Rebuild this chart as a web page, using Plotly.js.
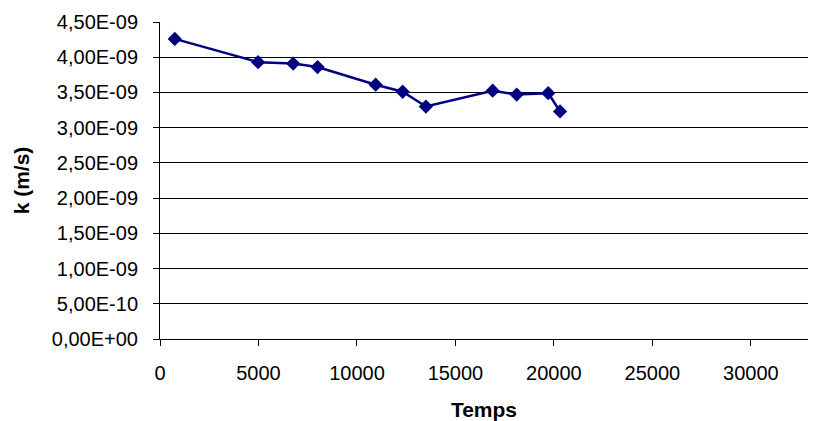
<!DOCTYPE html>
<html>
<head>
<meta charset="utf-8">
<script src="https://cdn.plot.ly/plotly-3.0.1.min.js"></script>
<style>
  html, body { margin: 0; padding: 0; background: #fff; }
  #chart { width: 816px; height: 421px; }
</style>
</head>
<body>
<div id="chart"></div>
<script>
// Data
const temps = [750, 4980, 6760, 8000, 10950, 12320, 13500, 16890, 18110, 19710, 20310];
const kValues = [4.26e-9, 3.93e-9, 3.91e-9, 3.86e-9, 3.61e-9, 3.51e-9, 3.30e-9, 3.525e-9, 3.47e-9, 3.49e-9, 3.23e-9];
const yTickVals = [0, 0.5e-9, 1.0e-9, 1.5e-9, 2.0e-9, 2.5e-9, 3.0e-9, 3.5e-9, 4.0e-9, 4.5e-9];
const yTickText = ["0,00E+00", "5,00E-10", "1,00E-09", "1,50E-09", "2,00E-09", "2,50E-09", "3,00E-09", "3,50E-09", "4,00E-09", "4,50E-09"];
const xTickVals = [0, 5000, 10000, 15000, 20000, 25000, 30000];
const xTickText = ["0", "5000", "10000", "15000", "20000", "25000", "30000"];
const xTitle = "Temps";
const yTitle = "k (m/s)";

const font = "Liberation Sans, Arial, sans-serif";

const trace = {
  x: temps,
  y: kValues,
  type: "scatter",
  mode: "lines+markers",
  line: { color: "#000080", width: 2.5 },
  marker: { symbol: "diamond", size: 11, color: "#000080" },
  hoverinfo: "x+y"
};

const layout = {
  width: 816,
  height: 421,
  margin: { l: 160, r: 8, t: 22, b: 82, pad: 0 },
  paper_bgcolor: "#ffffff",
  plot_bgcolor: "#ffffff",
  showlegend: false,
  font: { family: font, size: 20, color: "#000000" },
  xaxis: {
    range: [0, 32900],
    tickmode: "array",
    tickvals: xTickVals,
    ticktext: xTickText,
    ticks: "outside",
    ticklen: 6,
    tickcolor: "#000",
    tickwidth: 1,
    ticklabelstandoff: 10,
    showgrid: false,
    zeroline: false,
    showline: true,
    linecolor: "#000",
    linewidth: 1,
    tickfont: { family: font, size: 20, color: "#000" },
    title: { text: xTitle, font: { family: font, size: 21, color: "#000", weight: "bold" }, standoff: 19 },
    automargin: false
  },
  yaxis: {
    range: [0, 4.5e-9],
    tickmode: "array",
    tickvals: yTickVals,
    ticktext: yTickText,
    ticks: "outside",
    ticklen: 6,
    tickcolor: "#000",
    tickwidth: 1,
    ticklabelstandoff: 11,
    showgrid: true,
    gridcolor: "#000000",
    gridwidth: 1,
    zeroline: false,
    showline: true,
    linecolor: "#000",
    linewidth: 1,
    tickfont: { family: font, size: 20, color: "#000" },
    title: { text: yTitle, font: { family: font, size: 21, color: "#000", weight: "bold" }, standoff: 16 },
    automargin: false
  }
};

Plotly.newPlot("chart", [trace], layout, { displayModeBar: false, staticPlot: true });
</script>
</body>
</html>
